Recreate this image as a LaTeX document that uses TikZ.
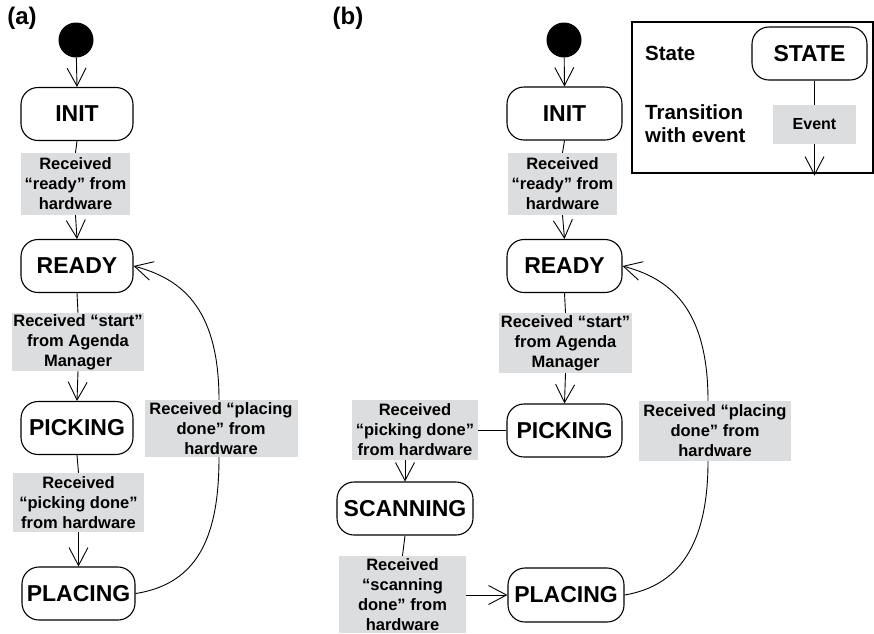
\documentclass[tikz,border=0pt]{standalone}
\usepackage{fontspec}
\setmainfont{Liberation Sans}
\usetikzlibrary{arrows.meta}
\definecolor{evgray}{RGB}{220,221,223}
\newcommand\statefont{\fontsize{23}{27}\selectfont\bfseries}
\newcommand\evfont{\fontsize{16.5}{20}\selectfont\bfseries}
\newcommand\legfont{\fontsize{20.5}{23}\selectfont\bfseries}
\newcommand\panelfont{\fontsize{24}{28}\selectfont\bfseries}
\tikzset{
  statebox/.style={draw, rounded corners=17pt, line width=1.1pt,
    minimum width=113pt, minimum height=53pt, inner sep=0pt, font=\statefont},
  evbox/.style={fill=evgray, align=center, inner sep=0pt, font=\evfont},
  startdot/.style={circle, fill=black, minimum size=35pt, inner sep=0pt},
  link/.style={line width=0.9pt},
  trans/.style={line width=0.9pt, -{Straight Barb[length=18pt,width=19pt]}},
  paneltag/.style={font=\panelfont, inner sep=0pt}
}
\begin{document}
\begin{tikzpicture}[x=1pt,y=-1pt]
\useasboundingbox (0,0) rectangle (874,633);

% ---------------- panel (a) ----------------
\node[paneltag] (tagA) at (22,18) {(a)};
\node[startdot] (iA) at (76,40) {};
\node[statebox, minimum width=112pt] (sA1) at (77,114) {INIT};
\node[evbox, minimum width=109pt, minimum height=62pt] (lA1) at (75.5,184)
  {Received\\“ready” from\\hardware};
\node[statebox, minimum width=112pt] (sA2) at (77,266) {READY};
\node[evbox, minimum width=132pt, minimum height=58pt] (lA2) at (78,342)
  {Received “start”\\from Agenda\\Manager};
\node[statebox, minimum width=112pt] (sA3) at (77,428) {PICKING};
\node[evbox, minimum width=131pt, minimum height=59pt] (lA3) at (78.5,502.5)
  {Received\\“picking done”\\from hardware};
\node[statebox] (sA4) at (78.5,593.5) {PLACING};
\node[evbox, minimum width=153pt, minimum height=57pt] (lA4) at (221,428.5)
  {Received “placing\\done” from\\hardware};

\draw[trans] (iA) -- (sA1.north);
\draw[link] (sA1.south) -- (lA1.north);
\draw[trans] (lA1.south) -- (sA2.north);
\draw[link] (sA2.south) -- (lA2.north);
\draw[trans] (lA2.south) -- (sA3.north);
\draw[link] (sA3.south) -- (lA3.north);
\draw[trans] (lA3.south) -- (sA4.north);
\draw[link] (sA4.east) .. controls +(65,-10) and +(0,75) .. ([xshift=-2pt]lA4.south);
\draw[trans] ([xshift=-2pt]lA4.north) .. controls +(0,-95) and +(45,12) .. (sA2.east);

% ---------------- panel (b) ----------------
\node[paneltag] (tagB) at (348,18) {(b)};
\node[startdot] (iB) at (564,40) {};
\node[statebox, minimum width=115pt] (sB1) at (564.5,113.5) {INIT};
\node[evbox, minimum width=109pt, minimum height=62pt] (lB1) at (562.5,184)
  {Received\\“ready” from\\hardware};
\node[statebox, minimum width=115pt] (sB2) at (564.5,266) {READY};
\node[evbox, minimum width=133pt, minimum height=60pt] (lB2) at (565.5,343)
  {Received “start”\\from Agenda\\Manager};
\node[statebox, minimum width=115pt] (sB3) at (564.5,430.5) {PICKING};
\node[evbox, minimum width=126pt, minimum height=60pt] (lB3) at (415,430)
  {Received\\“picking done”\\from hardware};
\node[statebox, minimum width=136pt] (sB4) at (405,508.5) {SCANNING};
\node[evbox, minimum width=127pt, minimum height=77pt] (lB4) at (402.5,594.5)
  {Received\\“scanning\\done” from\\hardware};
\node[statebox, minimum width=116pt, minimum height=54pt] (sB5) at (566,595) {PLACING};
\node[evbox, minimum width=152pt, minimum height=60pt] (lB5) at (715,431)
  {Received “placing\\done” from\\hardware};

\draw[trans] (iB) -- (sB1.north);
\draw[link] (sB1.south) -- (lB1.north);
\draw[trans] (lB1.south) -- (sB2.north);
\draw[link] (sB2.south) -- (lB2.north);
\draw[trans] (lB2.south) -- (sB3.north);
\draw[link] (sB3.west) -- (lB3.east |- sB3.west);
\draw[trans] (lB3.south -| sB4.north) -- (sB4.north);
\draw[link] (sB4.south) -- (lB4.north);
\draw[trans] (lB4.east |- sB5.west) -- (sB5.west);
\draw[link] (sB5.east) .. controls +(60,-10) and +(0,75) .. ([xshift=-7pt]lB5.south);
\draw[trans] ([xshift=-7pt]lB5.north) .. controls +(0,-95) and +(45,12) .. (sB2.east);

% ---------------- legend ----------------
\node[draw, line width=1.1pt, minimum width=241pt, minimum height=151pt,
  inner sep=0pt] (lg) at (752.5,97.5) {};
\node[statebox, minimum width=115pt] (stL) at (809.5,53.5) {STATE};
\node[evbox, font=\fontsize{16}{20}\selectfont\bfseries,
  minimum width=83pt, minimum height=39pt] (evL) at (814.5,124.5) {Event};
\node[font=\legfont, anchor=west, inner sep=0pt] (txState) at (645,53) {State};
\node[font=\legfont, anchor=west, align=left, inner sep=0pt] (txTrans) at (645,124)
  {Transition\\with event};
\coordinate (evEnd) at (evL.south |- lg.south);
\draw[link] (evL.north |- stL.south) -- (evL.north);
\draw[trans] (evL.south) -- ([yshift=-2pt]evEnd);
\end{tikzpicture}
\end{document}
